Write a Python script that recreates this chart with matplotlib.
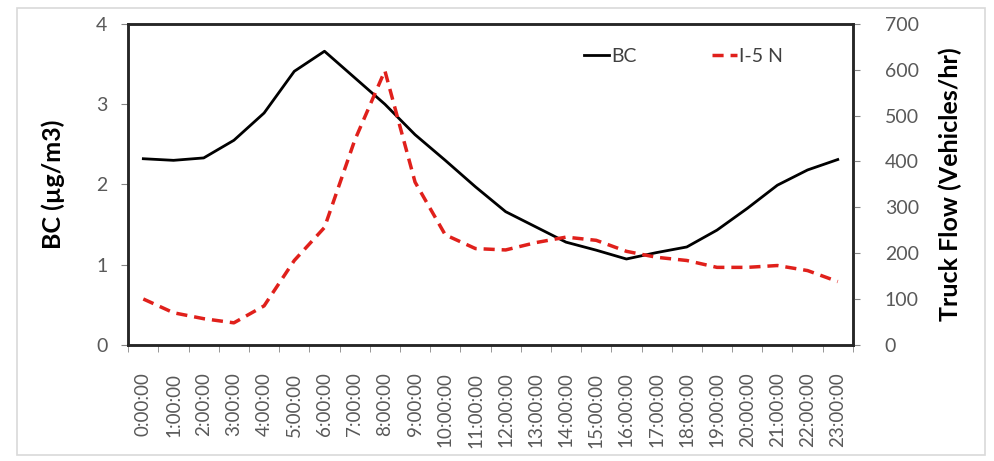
import matplotlib
matplotlib.use("Agg")
import matplotlib.pyplot as plt
from matplotlib.patches import Rectangle

# data
hours = [f"{h}:00:00" for h in range(24)]
bc = [2.32, 2.30, 2.33, 2.55, 2.89, 3.41, 3.66, 3.33, 3.00, 2.62,
      2.30, 1.97, 1.66, 1.47, 1.28, 1.18, 1.07, 1.15, 1.22, 1.43,
      1.70, 1.99, 2.18, 2.31]
truck = [100, 70, 57, 48, 85, 184, 256, 446, 598, 355,
         240, 210, 207, 223, 235, 228, 204, 191, 184, 169,
         169, 173, 162, 138]

plt.rcParams['font.family'] = ['Lato', 'DejaVu Sans']

fig = plt.figure(figsize=(9.94, 4.61), dpi=100)
ax1 = fig.add_axes([0.129, 0.252, 0.729, 0.696])
ax2 = ax1.twinx()

# light frame around the whole picture
fig.patches.append(Rectangle((0.017, 0.013), 0.974, 0.97, transform=fig.transFigure,
                             fill=False, edgecolor='#d9d9d9', linewidth=1.2))

x = list(range(len(hours)))
l1, = ax1.plot(x, bc, color='black', lw=2, label='BC')
l2, = ax2.plot(x, truck, color='#e0201b', lw=2.5, dashes=(3.2, 2), label='I-5 N')

ax1.set_xlim(-0.5, 23.5)
ax1.set_ylim(0, 4)
ax2.set_ylim(0, 700)
ax1.set_yticks([0, 1, 2, 3, 4])
ax2.set_yticks(range(0, 701, 100))

ax1.set_xticks(x)
ax1.set_xticklabels(hours, rotation=90)
ax1.set_xticks([i - 0.5 for i in range(25)], minor=True)
ax1.tick_params(axis='x', which='major', length=0, pad=20)
ax1.tick_params(axis='x', which='minor', length=5, color='#868686')

ax1.tick_params(axis='y', length=5, color='#868686', labelcolor='#595959', labelsize=14, pad=10)
ax2.tick_params(axis='y', length=5, color='#868686', labelcolor='#595959', labelsize=14, pad=18)
for ax in (ax1, ax2):
    for s in ax.spines.values():
        s.set_linewidth(1.8)
        s.set_color('#262626')
ax1.tick_params(axis='x', labelcolor='#595959', labelsize=13.5)

ax1.set_ylabel('BC (µg/m3)', fontsize=18, fontweight='bold', labelpad=22)
ax2.set_ylabel('Truck Flow (Vehicles/hr)', fontsize=18, fontweight='bold', labelpad=14)

ax2.legend(handles=[l1, l2], loc='upper right', bbox_to_anchor=(0.928, 0.98), ncol=2,
           frameon=False, handlelength=1.3, handletextpad=0.1, columnspacing=3.9,
           fontsize=14, labelcolor='#404040')

fig.savefig('out.png', dpi=100)
